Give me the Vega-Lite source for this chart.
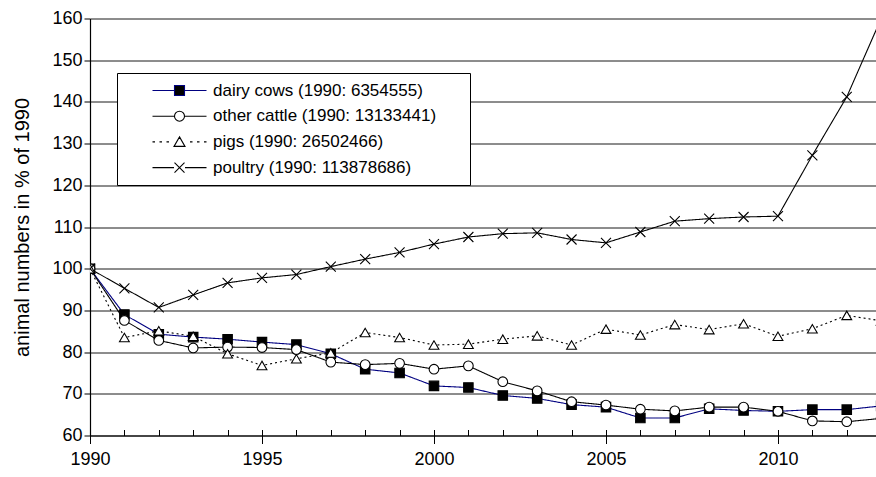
{
  "$schema": "https://vega.github.io/schema/vega-lite/v6.json",
  "width": 786,
  "height": 417,
  "autosize": {"type": "none"},
  "padding": {"left": 90, "top": 18.5, "right": 0, "bottom": 41.5},
  "background": "white",
  "config": {
    "view": {"stroke": null},
    "font": "Liberation Sans",
    "axis": {"labelFont": "Liberation Sans", "titleFont": "Liberation Sans", "labelColor": "black", "titleColor": "black", "domainColor": "black", "tickColor": "black"},
    "legend": {"labelFont": "Liberation Sans"}
  },
  "data": {
    "values": [
      {"year": 1990, "series": "dairy cows (1990: 6354555)", "value": 100},
      {"year": 1991, "series": "dairy cows (1990: 6354555)", "value": 89.0},
      {"year": 1992, "series": "dairy cows (1990: 6354555)", "value": 84.3},
      {"year": 1993, "series": "dairy cows (1990: 6354555)", "value": 83.6},
      {"year": 1994, "series": "dairy cows (1990: 6354555)", "value": 83.1},
      {"year": 1995, "series": "dairy cows (1990: 6354555)", "value": 82.4},
      {"year": 1996, "series": "dairy cows (1990: 6354555)", "value": 81.8},
      {"year": 1997, "series": "dairy cows (1990: 6354555)", "value": 79.6},
      {"year": 1998, "series": "dairy cows (1990: 6354555)", "value": 75.9},
      {"year": 1999, "series": "dairy cows (1990: 6354555)", "value": 75.0},
      {"year": 2000, "series": "dairy cows (1990: 6354555)", "value": 71.9},
      {"year": 2001, "series": "dairy cows (1990: 6354555)", "value": 71.5},
      {"year": 2002, "series": "dairy cows (1990: 6354555)", "value": 69.6},
      {"year": 2003, "series": "dairy cows (1990: 6354555)", "value": 68.9},
      {"year": 2004, "series": "dairy cows (1990: 6354555)", "value": 67.4},
      {"year": 2005, "series": "dairy cows (1990: 6354555)", "value": 66.8},
      {"year": 2006, "series": "dairy cows (1990: 6354555)", "value": 64.2},
      {"year": 2007, "series": "dairy cows (1990: 6354555)", "value": 64.2},
      {"year": 2008, "series": "dairy cows (1990: 6354555)", "value": 66.4},
      {"year": 2009, "series": "dairy cows (1990: 6354555)", "value": 66.0},
      {"year": 2010, "series": "dairy cows (1990: 6354555)", "value": 65.8},
      {"year": 2011, "series": "dairy cows (1990: 6354555)", "value": 66.2},
      {"year": 2012, "series": "dairy cows (1990: 6354555)", "value": 66.2},
      {"year": 2013, "series": "dairy cows (1990: 6354555)", "value": 67.1},
      {"year": 1990, "series": "other cattle (1990: 13133441)", "value": 100},
      {"year": 1991, "series": "other cattle (1990: 13133441)", "value": 87.6},
      {"year": 1992, "series": "other cattle (1990: 13133441)", "value": 82.8},
      {"year": 1993, "series": "other cattle (1990: 13133441)", "value": 81.0},
      {"year": 1994, "series": "other cattle (1990: 13133441)", "value": 81.2},
      {"year": 1995, "series": "other cattle (1990: 13133441)", "value": 81.1},
      {"year": 1996, "series": "other cattle (1990: 13133441)", "value": 80.6},
      {"year": 1997, "series": "other cattle (1990: 13133441)", "value": 77.6},
      {"year": 1998, "series": "other cattle (1990: 13133441)", "value": 77.0},
      {"year": 1999, "series": "other cattle (1990: 13133441)", "value": 77.3},
      {"year": 2000, "series": "other cattle (1990: 13133441)", "value": 75.9},
      {"year": 2001, "series": "other cattle (1990: 13133441)", "value": 76.7},
      {"year": 2002, "series": "other cattle (1990: 13133441)", "value": 72.9},
      {"year": 2003, "series": "other cattle (1990: 13133441)", "value": 70.7},
      {"year": 2004, "series": "other cattle (1990: 13133441)", "value": 68.1},
      {"year": 2005, "series": "other cattle (1990: 13133441)", "value": 67.3},
      {"year": 2006, "series": "other cattle (1990: 13133441)", "value": 66.3},
      {"year": 2007, "series": "other cattle (1990: 13133441)", "value": 65.9},
      {"year": 2008, "series": "other cattle (1990: 13133441)", "value": 66.8},
      {"year": 2009, "series": "other cattle (1990: 13133441)", "value": 66.8},
      {"year": 2010, "series": "other cattle (1990: 13133441)", "value": 65.8},
      {"year": 2011, "series": "other cattle (1990: 13133441)", "value": 63.5},
      {"year": 2012, "series": "other cattle (1990: 13133441)", "value": 63.3},
      {"year": 2013, "series": "other cattle (1990: 13133441)", "value": 64.1},
      {"year": 1990, "series": "pigs (1990: 26502466)", "value": 100},
      {"year": 1991, "series": "pigs (1990: 26502466)", "value": 83.5},
      {"year": 1992, "series": "pigs (1990: 26502466)", "value": 85.1},
      {"year": 1993, "series": "pigs (1990: 26502466)", "value": 83.8},
      {"year": 1994, "series": "pigs (1990: 26502466)", "value": 79.6},
      {"year": 1995, "series": "pigs (1990: 26502466)", "value": 76.8},
      {"year": 1996, "series": "pigs (1990: 26502466)", "value": 78.4},
      {"year": 1997, "series": "pigs (1990: 26502466)", "value": 79.8},
      {"year": 1998, "series": "pigs (1990: 26502466)", "value": 84.7},
      {"year": 1999, "series": "pigs (1990: 26502466)", "value": 83.5},
      {"year": 2000, "series": "pigs (1990: 26502466)", "value": 81.7},
      {"year": 2001, "series": "pigs (1990: 26502466)", "value": 81.9},
      {"year": 2002, "series": "pigs (1990: 26502466)", "value": 83.1},
      {"year": 2003, "series": "pigs (1990: 26502466)", "value": 83.9},
      {"year": 2004, "series": "pigs (1990: 26502466)", "value": 81.7},
      {"year": 2005, "series": "pigs (1990: 26502466)", "value": 85.5},
      {"year": 2006, "series": "pigs (1990: 26502466)", "value": 84.1},
      {"year": 2007, "series": "pigs (1990: 26502466)", "value": 86.6},
      {"year": 2008, "series": "pigs (1990: 26502466)", "value": 85.4},
      {"year": 2009, "series": "pigs (1990: 26502466)", "value": 86.8},
      {"year": 2010, "series": "pigs (1990: 26502466)", "value": 83.8},
      {"year": 2011, "series": "pigs (1990: 26502466)", "value": 85.6},
      {"year": 2012, "series": "pigs (1990: 26502466)", "value": 88.8},
      {"year": 2013, "series": "pigs (1990: 26502466)", "value": 87.5},
      {"year": 1990, "series": "poultry (1990: 113878686)", "value": 100},
      {"year": 1991, "series": "poultry (1990: 113878686)", "value": 95.3},
      {"year": 1992, "series": "poultry (1990: 113878686)", "value": 90.7},
      {"year": 1993, "series": "poultry (1990: 113878686)", "value": 93.7},
      {"year": 1994, "series": "poultry (1990: 113878686)", "value": 96.6},
      {"year": 1995, "series": "poultry (1990: 113878686)", "value": 97.8},
      {"year": 1996, "series": "poultry (1990: 113878686)", "value": 98.6},
      {"year": 1997, "series": "poultry (1990: 113878686)", "value": 100.5},
      {"year": 1998, "series": "poultry (1990: 113878686)", "value": 102.3},
      {"year": 1999, "series": "poultry (1990: 113878686)", "value": 103.9},
      {"year": 2000, "series": "poultry (1990: 113878686)", "value": 105.9},
      {"year": 2001, "series": "poultry (1990: 113878686)", "value": 107.6},
      {"year": 2002, "series": "poultry (1990: 113878686)", "value": 108.4},
      {"year": 2003, "series": "poultry (1990: 113878686)", "value": 108.6},
      {"year": 2004, "series": "poultry (1990: 113878686)", "value": 107.0},
      {"year": 2005, "series": "poultry (1990: 113878686)", "value": 106.2},
      {"year": 2006, "series": "poultry (1990: 113878686)", "value": 108.8},
      {"year": 2007, "series": "poultry (1990: 113878686)", "value": 111.4},
      {"year": 2008, "series": "poultry (1990: 113878686)", "value": 112.0},
      {"year": 2009, "series": "poultry (1990: 113878686)", "value": 112.4},
      {"year": 2010, "series": "poultry (1990: 113878686)", "value": 112.6},
      {"year": 2011, "series": "poultry (1990: 113878686)", "value": 127.2},
      {"year": 2012, "series": "poultry (1990: 113878686)", "value": 141.2},
      {"year": 2013, "series": "poultry (1990: 113878686)", "value": 160.0}
    ]
  },
  "resolve": {
    "scale": {"shape": "independent", "fill": "independent", "stroke": "independent"},
    "axis": {"x": "independent"}
  },
  "layer": [
    {
      "mark": {"type": "line", "clip": true},
      "encoding": {
        "x": {
          "field": "year", "type": "quantitative",
          "scale": {"domain": [1990, 2012.85], "nice": false, "zero": false},
          "axis": {
            "orient": "bottom", "title": null,
            "values": [1990,1991,1992,1993,1994,1995,1996,1997,1998,1999,2000,2001,2002,2003,2004,2005,2006,2007,2008,2009,2010,2011,2012],
            "labels": false, "tickSize": -6, "grid": false, "domain": true, "domainWidth": 1.2
          }
        },
        "y": {
          "field": "value", "type": "quantitative",
          "scale": {"domain": [60, 160], "nice": false, "zero": false},
          "axis": {
            "orient": "left", "title": "animal numbers in % of 1990",
            "values": [60,70,80,90,100,110,120,130,140,150,160],
            "grid": true, "gridColor": "#1a1a1a", "gridWidth": 1,
            "tickSize": 6, "labelFontSize": 18, "labelPadding": 2,
            "titleFontSize": 20, "titleFontWeight": "normal", "titlePadding": 19,
            "domainWidth": 1.2
          }
        },
        "color": {
          "field": "series", "type": "nominal", "legend": null,
          "scale": {"domain": ["dairy cows (1990: 6354555)", "other cattle (1990: 13133441)", "pigs (1990: 26502466)", "poultry (1990: 113878686)"], "range": ["#000080", "#000000", "#000000", "#000000"]}
        },
        "strokeDash": {
          "field": "series", "type": "nominal", "legend": null,
          "scale": {"domain": ["dairy cows (1990: 6354555)", "other cattle (1990: 13133441)", "pigs (1990: 26502466)", "poultry (1990: 113878686)"], "range": [[1, 0], [1, 0], [2, 3], [1, 0]]}
        },
        "strokeWidth": {
          "field": "series", "type": "nominal", "legend": null,
          "scale": {"domain": ["dairy cows (1990: 6354555)", "other cattle (1990: 13133441)", "pigs (1990: 26502466)", "poultry (1990: 113878686)"], "range": [1.1, 1.1, 1.7, 1]}
        }
      }
    },
    {
      "mark": {"type": "point", "filled": true, "clip": true, "stroke": "black", "strokeWidth": 1.1, "opacity": 1},
      "encoding": {
        "x": {
          "field": "year", "type": "quantitative",
          "axis": {
            "orient": "bottom", "title": null,
            "values": [1990, 1995, 2000, 2005, 2010],
            "tickSize": 8, "labelFontSize": 18, "labelPadding": 7, "labelFlush": false, "labelOverlap": false,
            "format": "d", "grid": false, "domain": false
          }
        },
        "y": {
          "field": "value", "type": "quantitative",
          "axis": {
            "orient": "left", "title": "animal numbers in % of 1990",
            "values": [60,70,80,90,100,110,120,130,140,150,160],
            "grid": true, "gridColor": "#1a1a1a", "gridWidth": 1,
            "tickSize": 6, "labelFontSize": 18, "labelPadding": 2,
            "titleFontSize": 20, "titleFontWeight": "normal", "titlePadding": 19,
            "domainWidth": 1.2
          }
        },
        "shape": {
          "field": "series", "type": "nominal", "legend": null,
          "scale": {"domain": ["dairy cows (1990: 6354555)", "other cattle (1990: 13133441)", "pigs (1990: 26502466)", "poultry (1990: 113878686)"], "range": ["square", "circle", "triangle-up", "M-1,-1L1,1M-1,1L1,-1"]}
        },
        "fill": {
          "field": "series", "type": "nominal", "legend": null,
          "scale": {"domain": ["dairy cows (1990: 6354555)", "other cattle (1990: 13133441)", "pigs (1990: 26502466)", "poultry (1990: 113878686)"], "range": ["#000000", "#ffffff", "#ffffff", "transparent"]}
        },
        "size": {
          "field": "series", "type": "nominal", "legend": null,
          "scale": {"domain": ["dairy cows (1990: 6354555)", "other cattle (1990: 13133441)", "pigs (1990: 26502466)", "poultry (1990: 113878686)"], "range": [90, 100, 115, 90]}
        }
      }
    },
    {
      "transform": [{"filter": "datum.year > 2100"}],
      "mark": {"type": "point", "filled": true},
      "encoding": {
        "x": {"field": "year", "type": "quantitative", "axis": null},
        "y": {
          "field": "value", "type": "quantitative",
          "axis": {
            "orient": "left", "title": "animal numbers in % of 1990",
            "values": [60,70,80,90,100,110,120,130,140,150,160],
            "grid": true, "gridColor": "#1a1a1a", "gridWidth": 1,
            "tickSize": 6, "labelFontSize": 18, "labelPadding": 2,
            "titleFontSize": 20, "titleFontWeight": "normal", "titlePadding": 19,
            "domainWidth": 1.2
          }
        },
        "shape": {
          "field": "series", "type": "nominal",
          "scale": {"domain": ["dairy cows (1990: 6354555)", "other cattle (1990: 13133441)", "pigs (1990: 26502466)", "poultry (1990: 113878686)"],
            "range": [
              "M-10.8,0M-5.4,0L-1,0M1,0L5.4,0M-1,-1L1,-1L1,1L-1,1ZM55.8,0",
              "M-10.8,0M-5.4,0L-1,0M1,0L5.4,0M1,0A1,1 0 1,1 -1,0A1,1 0 1,1 1,0ZM55.8,0",
              "M-10.8,0M-5.4,0h0.5M-4,0h0.5M-2.6,0h0.5M2.1,0h0.5M3.5,0h0.5M4.9,0h0.5M0,-1L1.1,0.9L-1.1,0.9ZM55.8,0",
              "M-10.8,0M-5.4,0L-1.1,0M1.1,0L5.4,0M-1,-1L1,1M-1,1L1,-1M55.8,0"
            ]},
          "legend": {
            "title": null, "orient": "none", "legendX": 27, "legendY": 54.5,
            "symbolSize": 100, "symbolOffset": 45, "symbolStrokeWidth": 1.1, "labelFontSize": 17, "labelColor": "black",
            "labelOffset": 25, "labelLimit": 500, "rowPadding": 7.7, "padding": 9,
            "strokeColor": "black", "fillColor": "white", "symbolOpacity": 1
          }
        },
        "fill": {
          "field": "series", "type": "nominal",
          "scale": {"domain": ["dairy cows (1990: 6354555)", "other cattle (1990: 13133441)", "pigs (1990: 26502466)", "poultry (1990: 113878686)"], "range": ["#000000", "#ffffff", "#ffffff", "transparent"]}
        },
        "stroke": {
          "field": "series", "type": "nominal",
          "scale": {"domain": ["dairy cows (1990: 6354555)", "other cattle (1990: 13133441)", "pigs (1990: 26502466)", "poultry (1990: 113878686)"], "range": ["#000080", "#000000", "#000000", "#000000"]}
        }
      }
    }
  ]
}
